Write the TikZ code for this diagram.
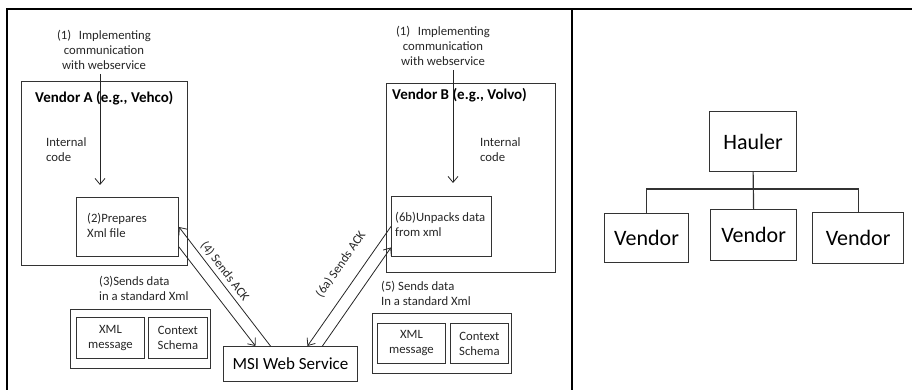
\documentclass[tikz,border=0pt]{standalone}
\usepackage{fontspec}
\setmainfont{Carlito}
\usetikzlibrary{arrows.meta,positioning,calc}

\tikzset{
  box/.style={draw=black!80, line width=0.9pt, anchor=north west, inner sep=0pt},
  txt/.style={inner sep=0pt, text=black!85, align=left, font=\fontsize{12.7}{15}\selectfont},
  boxtxt/.style={box, text=black!85, align=center, font=\fontsize{12.7}{15}\selectfont},
  title/.style={inner sep=0pt, anchor=west, font=\fontsize{15}{18}\selectfont\bfseries},
  tip/.style={draw=black!85, line width=0.8pt, -{Straight Barb[length=6pt,width=10pt]}},
  tipback/.style={draw=black!85, line width=0.8pt, {Straight Barb[length=6pt,width=10pt]}-},
  lbl/.style={inner sep=3.5pt, text=black!85, font=\fontsize{12.7}{15}\selectfont},
  big/.style={box, line width=1.2pt, font=\fontsize{22}{26}\selectfont},
  frame/.style={line width=2.6pt}
}

\begin{document}
\begin{tikzpicture}[x=1pt, y=-1pt]
\useasboundingbox (0,0) rectangle (912,390);
\draw[frame] (6,9) -- (912,9);
\draw[frame] (7,9) -- (7,390);
\draw[frame] (572,9) -- (572,390);

% vendor A side
\node[txt, align=center] (implA) at (104,50) {(1)\hspace{0.6em}Implementing\\communication\\with webservice};
\node[box, minimum width=166pt, minimum height=184pt] (vendA) at (21,81) {};
\node[title] (titleA) at (35,98) {Vendor A (e.g., Vehco)};
\node[txt, anchor=west] (intA) at (46,150) {Internal\\code};
\node[box, minimum width=102pt, minimum height=59pt] (prepA) at (76,197) {};
\node[txt, anchor=west] at (87,225.5) {(2)Prepares\\Xml file};
\coordinate (downA) at (100,185);
\draw[tip, shorten <=4pt] (implA.south -| downA) -- (downA);

\node[txt, anchor=west] (sendA) at (99,288.5) {(3)Sends data\\in a standard Xml};
\node[box, minimum width=140pt, minimum height=59pt] (packA) at (70,309) {};
\node[boxtxt, minimum width=68pt, minimum height=41pt] (xmlA) at (76,317) {XML\\message};
\node[boxtxt, minimum width=59pt, minimum height=41pt] (ctxA) at (148,317) {Context\\Schema};

% vendor B side
\node[txt, align=center] (implB) at (443,46) {(1)\hspace{0.6em}Implementing\\communication\\with webservice};
\node[box, minimum width=169pt, minimum height=189pt] (vendB) at (386,83) {};
\node[title] (titleB) at (392,95) {Vendor B (e.g., Volvo)};
\node[txt, anchor=west] (intB) at (480,150) {Internal\\code};
\node[box, minimum width=100pt, minimum height=60pt] (unpackB) at (391,196) {};
\node[txt, anchor=west] at (395,224.5) {(6b)Unpacks data\\from xml};
\coordinate (downB) at (453,183);
\draw[tip, shorten <=4pt] (implB.south -| downB) -- (downB);

\node[txt, anchor=west] (sendB) at (381,293) {(5) Sends data\\In a standard Xml};
\node[box, minimum width=139pt, minimum height=60pt] (packB) at (372,313) {};
\node[boxtxt, minimum width=68pt, minimum height=40pt] (xmlB) at (377,323) {XML\\message};
\node[boxtxt, minimum width=58pt, minimum height=40pt] (ctxB) at (450,323) {Context\\Schema};

% web service
\node[box, minimum width=134pt, minimum height=35pt, font=\fontsize{17}{20}\selectfont] (msi) at (223,346) {MSI Web Service};
\draw[tipback] (prepA.east) -- ([xshift=-20pt]msi.north) node[lbl, pos=0.42, sloped, above] {(4) Sends ACK};
\draw[tip] ([yshift=-20pt]prepA.east) -- ([xshift=-35pt]msi.north);
\draw[tipback] ([xshift=17pt]msi.north) -- (unpackB.west) node[lbl, pos=0.59, sloped, above=10pt] {(6a) Sends ACK};
\draw[tip] ([xshift=32pt]msi.north) -- ([yshift=-21pt]unpackB.west);

% hierarchy
\node[big, minimum width=87pt, minimum height=60pt] (hauler) at (709,111) {Hauler};
\node[big, minimum width=84pt, minimum height=49pt] (v1) at (604,213) {Vendor};
\node[big, minimum width=86pt, minimum height=51pt] (v2) at (710,209) {Vendor};
\node[big, minimum width=91pt, minimum height=51pt] (v3) at (812,212) {Vendor};
\coordinate (bus) at (750,189);
\draw[line width=1.2pt, draw=black!80] (hauler.south) -- (v2.north);
\draw[line width=1.2pt, draw=black!80] (v1.north) |- (bus) -| (v3.north);
\end{tikzpicture}
\end{document}
